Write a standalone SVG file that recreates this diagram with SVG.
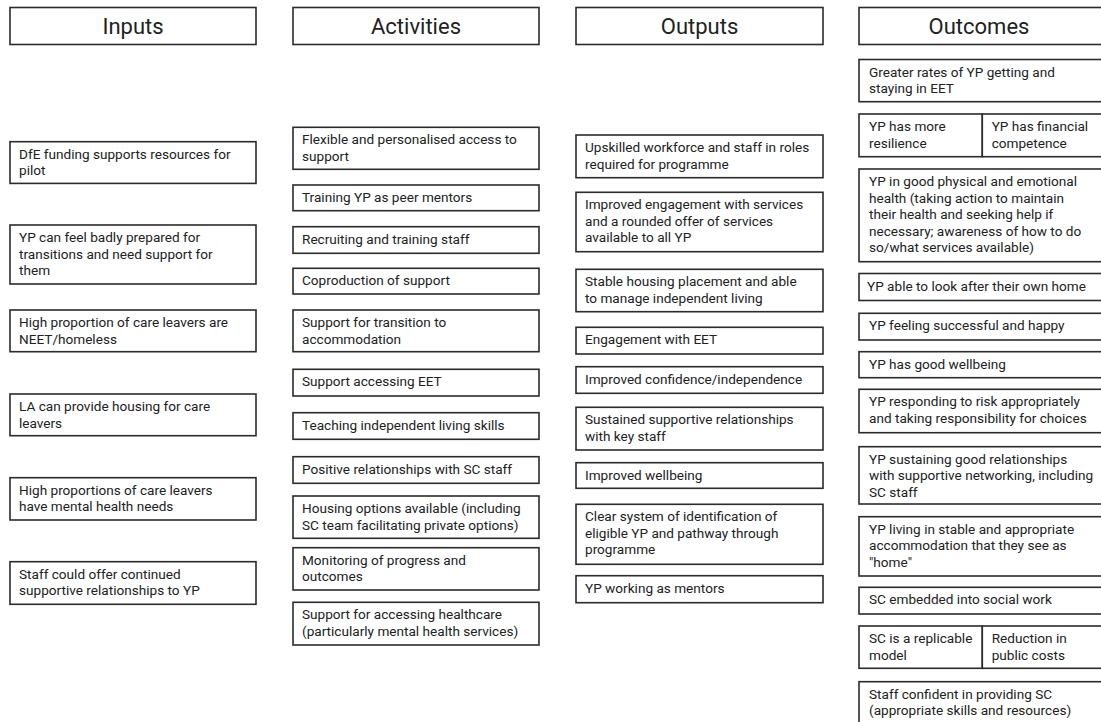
<svg xmlns="http://www.w3.org/2000/svg" width="1101" height="722" viewBox="0 0 1101 722">
<style>
rect{fill:#fff;stroke:#2b2b2b;stroke-width:1.6}
text{font-family:Roboto,"Liberation Sans",sans-serif;fill:#222}
.h{font-size:22px;text-anchor:middle}
.t{font-size:13.6px}
</style>
<rect x="0" y="0" width="1101" height="722" style="stroke:none"/>
<g id="headers">
<g id="h-inputs"><rect x="10" y="7.5" width="246" height="37"/><text class="h" x="133" y="33.8">Inputs</text></g>
<g id="h-activities"><rect x="293" y="7.5" width="246" height="37"/><text class="h" x="416" y="33.8">Activities</text></g>
<g id="h-outputs"><rect x="576" y="7.5" width="247" height="37"/><text class="h" x="699.5" y="33.8">Outputs</text></g>
<g id="h-outcomes"><rect x="859" y="7.5" width="250" height="37"/><text class="h" x="979" y="33.8">Outcomes</text></g>
</g>
<g id="inputs">
<g id="i1"><rect x="10" y="141.7" width="246" height="41.7"/><text class="t" x="19" y="158.7">DfE funding supports resources for<tspan x="19" dy="16.5">pilot</tspan></text></g>
<g id="i2"><rect x="10" y="225" width="246" height="59"/><text class="t" x="19" y="242">YP can feel badly prepared for<tspan x="19" dy="16.5">transitions and need support for</tspan><tspan x="19" dy="16.5">them</tspan></text></g>
<g id="i3"><rect x="10" y="310" width="246" height="41.7"/><text class="t" x="19" y="327">High proportion of care leavers are<tspan x="19" dy="16.5">NEET/homeless</tspan></text></g>
<g id="i4"><rect x="10" y="394" width="246" height="41.7"/><text class="t" x="19" y="411">LA can provide housing for care<tspan x="19" dy="16.5">leavers</tspan></text></g>
<g id="i5"><rect x="10" y="477.7" width="246" height="42.3"/><text class="t" x="19" y="494.7">High proportions of care leavers<tspan x="19" dy="16.5">have mental health needs</tspan></text></g>
<g id="i6"><rect x="10" y="561.7" width="246" height="42.6"/><text class="t" x="19" y="578.7">Staff could offer continued<tspan x="19" dy="16.5">supportive relationships to YP</tspan></text></g>
</g>
<g id="activities">
<g id="a1"><rect x="293" y="127.3" width="246" height="42"/><text class="t" x="302" y="144.3">Flexible and personalised access to<tspan x="302" dy="16.5">support</tspan></text></g>
<g id="a2"><rect x="293" y="185" width="246" height="25.7"/><text class="t" x="302" y="202">Training YP as peer mentors</text></g>
<g id="a3"><rect x="293" y="226.7" width="246" height="26.6"/><text class="t" x="302" y="243.7">Recruiting and training staff</text></g>
<g id="a4"><rect x="293" y="268.3" width="246" height="25.7"/><text class="t" x="302" y="285.3">Coproduction of support</text></g>
<g id="a5"><rect x="293" y="310" width="246" height="41.7"/><text class="t" x="302" y="327">Support for transition to<tspan x="302" dy="16.5">accommodation</tspan></text></g>
<g id="a6"><rect x="293" y="369.3" width="246" height="26.7"/><text class="t" x="302" y="386.3">Support accessing EET</text></g>
<g id="a7"><rect x="293" y="412.7" width="246" height="26.6"/><text class="t" x="302" y="429.7">Teaching independent living skills</text></g>
<g id="a8"><rect x="293" y="456.7" width="246" height="26.6"/><text class="t" x="302" y="473.7">Positive relationships with SC staff</text></g>
<g id="a9"><rect x="293" y="496" width="246" height="42.3"/><text class="t" x="302" y="513">Housing options available (including<tspan x="302" dy="16.5">SC team facilitating private options)</tspan></text></g>
<g id="a10"><rect x="293" y="547.7" width="246" height="42.3"/><text class="t" x="302" y="564.7">Monitoring of progress and<tspan x="302" dy="16.5">outcomes</tspan></text></g>
<g id="a11"><rect x="293" y="602.3" width="246" height="42.7"/><text class="t" x="302" y="619.3">Support for accessing healthcare<tspan x="302" dy="16.5">(particularly mental health services)</tspan></text></g>
</g>
<g id="outputs">
<g id="o1"><rect x="576" y="135" width="247" height="42.7"/><text class="t" x="585" y="152">Upskilled workforce and staff in roles<tspan x="585" dy="16.5">required for programme</tspan></text></g>
<g id="o2"><rect x="576" y="192.3" width="247" height="59.4"/><text class="t" x="585" y="209.3">Improved engagement with services<tspan x="585" dy="16.5">and a rounded offer of services</tspan><tspan x="585" dy="16.5">available to all YP</tspan></text></g>
<g id="o3"><rect x="576" y="269.3" width="247" height="42.4"/><text class="t" x="585" y="286.3">Stable housing placement and able<tspan x="585" dy="16.5">to manage independent living</tspan></text></g>
<g id="o4"><rect x="576" y="327.3" width="247" height="26.7"/><text class="t" x="585" y="344.3">Engagement with EET</text></g>
<g id="o5"><rect x="576" y="366.7" width="247" height="26.6"/><text class="t" x="585" y="383.7">Improved confidence/independence</text></g>
<g id="o6"><rect x="576" y="407.3" width="247" height="42.7"/><text class="t" x="585" y="424.3">Sustained supportive relationships<tspan x="585" dy="16.5">with key staff</tspan></text></g>
<g id="o7"><rect x="576" y="462.7" width="247" height="25.6"/><text class="t" x="585" y="479.7">Improved wellbeing</text></g>
<g id="o8"><rect x="576" y="504.3" width="247" height="60"/><text class="t" x="585" y="521.3">Clear system of identification of<tspan x="585" dy="16.5">eligible YP and pathway through</tspan><tspan x="585" dy="16.5">programme</tspan></text></g>
<g id="o9"><rect x="576" y="575.7" width="247" height="27"/><text class="t" x="585" y="592.7">YP working as mentors</text></g>
</g>
<g id="outcomes">
<g id="c1"><rect x="859" y="59.5" width="250" height="42.2"/><text class="t" x="869" y="76.5">Greater rates of YP getting and<tspan x="869" dy="16.5">staying in EET</tspan></text></g>
<g id="c2a"><rect x="859" y="114" width="123.3" height="42.7"/><text class="t" x="869" y="131">YP has more<tspan x="869" dy="16.5">resilience</tspan></text></g>
<g id="c2b"><rect x="982.3" y="114" width="126.7" height="42.7"/><text class="t" x="991.7" y="131">YP has financial<tspan x="991.7" dy="16.5">competence</tspan></text></g>
<g id="c3"><rect x="859" y="169" width="250" height="92.7"/><text class="t" x="869" y="186">YP in good physical and emotional<tspan x="869" dy="16.5">health (taking action to maintain</tspan><tspan x="869" dy="16.5">their health and seeking help if</tspan><tspan x="869" dy="16.5">necessary; awareness of how to do</tspan><tspan x="869" dy="16.5">so/what services available)</tspan></text></g>
<g id="c4"><rect x="859" y="273.5" width="250" height="27"/><text class="t" x="867" y="290.5">YP able to look after their own home</text></g>
<g id="c5"><rect x="859" y="313.3" width="250" height="26.7"/><text class="t" x="869" y="330.3">YP feeling successful and happy</text></g>
<g id="c6"><rect x="859" y="351.7" width="250" height="26"/><text class="t" x="869" y="368.7">YP has good wellbeing</text></g>
<g id="c7"><rect x="859" y="389.3" width="250" height="43.4"/><text class="t" x="869" y="406.3">YP responding to risk appropriately<tspan x="869" dy="16.5">and taking responsibility for choices</tspan></text></g>
<g id="c8"><rect x="859" y="446.7" width="250" height="57.3"/><text class="t" x="869" y="463.7">YP sustaining good relationships<tspan x="869" dy="16.5">with supportive networking, including</tspan><tspan x="869" dy="16.5">SC staff</tspan></text></g>
<g id="c9"><rect x="859" y="516.7" width="250" height="59.3"/><text class="t" x="869" y="533.7">YP living in stable and appropriate<tspan x="869" dy="16.5">accommodation that they see as</tspan><tspan x="869" dy="16.5">"home"</tspan></text></g>
<g id="c10"><rect x="859" y="587.3" width="250" height="26.7"/><text class="t" x="869" y="604.3">SC embedded into social work</text></g>
<g id="c11a"><rect x="859" y="626" width="123.3" height="42.3"/><text class="t" x="869" y="643">SC is a replicable<tspan x="869" dy="16.5">model</tspan></text></g>
<g id="c11b"><rect x="982.3" y="626" width="126.7" height="42.3"/><text class="t" x="991.7" y="643">Reduction in<tspan x="991.7" dy="16.5">public costs</tspan></text></g>
<g id="c12"><rect x="859" y="681.7" width="250" height="44"/><text class="t" x="869" y="698.7">Staff confident in providing SC<tspan x="869" dy="16.5">(appropriate skills and resources)</tspan></text></g>
</g>
</svg>
